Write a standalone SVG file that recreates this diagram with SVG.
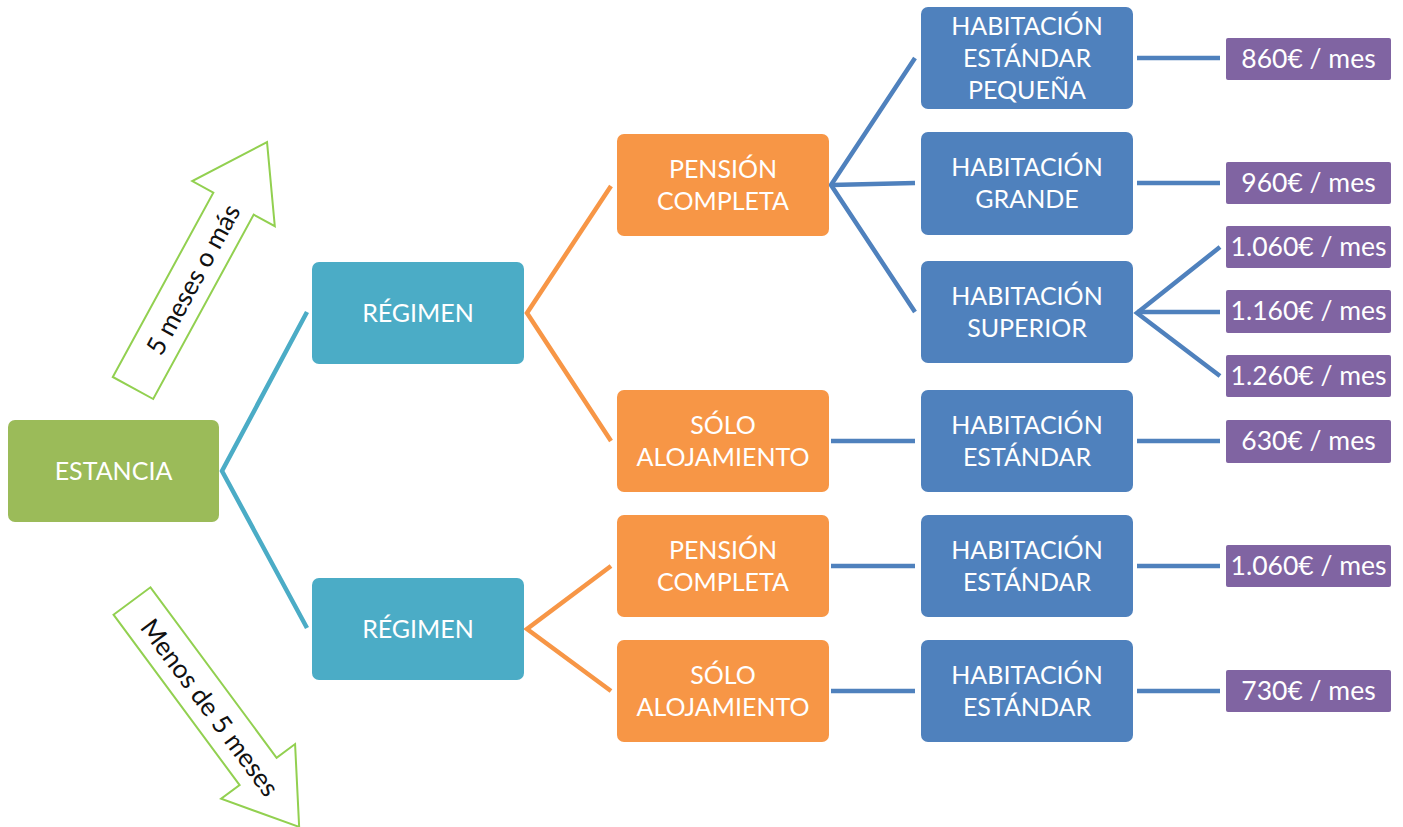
<svg xmlns="http://www.w3.org/2000/svg" width="1403" height="827" viewBox="0 0 1403 827">
<style>
.t{font-family:Lato,"Liberation Sans",sans-serif;font-size:25px;fill:#fff;text-anchor:middle;dominant-baseline:central}
.pt{font-size:26.5px}
.at{font-family:Lato,"Liberation Sans",sans-serif;font-size:26px;fill:#111;text-anchor:middle;dominant-baseline:central}
.g{fill:#9BBB59}
.c{fill:#4BACC6}
.o{fill:#F79646}
.b{fill:#4F81BD}
.p{fill:#8064A2}
.arr{fill:#fff;stroke:#92D050;stroke-width:2;stroke-linejoin:miter}
.lc{stroke:#4BACC6;stroke-width:4.5;fill:none}
.lo{stroke:#F79646;stroke-width:4.5;fill:none}
.lb{stroke:#4F81BD;stroke-width:4.5;fill:none}
</style>
<rect width="1403" height="827" fill="#fff"/>
<g id="connectors">
<polyline class="lc" points="307,312 222,471 307,628"/>
<polyline class="lo" points="611,186 527,313 611,441"/>
<polyline class="lo" points="611,566 527,629 611,691"/>
<polyline class="lb" points="915,58 831,185 915,312"/>
<line class="lb" x1="831" y1="185" x2="915" y2="183"/>
<line class="lb" x1="831" y1="441" x2="915" y2="441"/>
<line class="lb" x1="831" y1="566" x2="915" y2="566"/>
<line class="lb" x1="831" y1="691" x2="915" y2="691"/>
<line class="lb" x1="1137" y1="58" x2="1220" y2="58"/>
<line class="lb" x1="1137" y1="183" x2="1220" y2="183"/>
<polyline class="lb" points="1220,247 1137,313 1220,376"/>
<line class="lb" x1="1137" y1="312" x2="1220" y2="312"/>
<line class="lb" x1="1137" y1="441" x2="1220" y2="441"/>
<line class="lb" x1="1137" y1="566" x2="1220" y2="566"/>
<line class="lb" x1="1137" y1="691" x2="1220" y2="691"/>
</g>
<g id="arrow-up" transform="translate(133,388) rotate(28.6)">
<polygon class="arr" points="-23,0 -23,-210 -47,-210 0,-280 47,-210 23,-210 23,0"/>
<text class="at" transform="translate(0,-124) rotate(-90)">5 meses o más</text>
</g>
<g id="arrow-down" transform="translate(132,601) rotate(-36.5)">
<polygon class="arr" points="-23,0 23,0 23,212 46,212 0,281 -46,212 -23,212"/>
<text class="at" transform="translate(0,132) rotate(90)">Menos de 5 meses</text>
</g>
<g id="estancia"><rect class="g" x="8" y="420" width="211" height="102" rx="7"/><text class="t" x="113.5" y="469.5">ESTANCIA</text></g>
<g id="regimen1"><rect class="c" x="312" y="262" width="212" height="102" rx="7"/><text class="t" x="418" y="311.5">RÉGIMEN</text></g>
<g id="regimen2"><rect class="c" x="312" y="578" width="212" height="102" rx="7"/><text class="t" x="418" y="627.5">RÉGIMEN</text></g>
<g id="pension1"><rect class="o" x="617" y="134" width="212" height="102" rx="7"/><text class="t" x="723" y="167.5">PENSIÓN</text><text class="t" x="723" y="199.5">COMPLETA</text></g>
<g id="solo1"><rect class="o" x="617" y="390" width="212" height="102" rx="7"/><text class="t" x="723" y="423.5">SÓLO</text><text class="t" x="723" y="455.5">ALOJAMIENTO</text></g>
<g id="pension2"><rect class="o" x="617" y="515" width="212" height="102" rx="7"/><text class="t" x="723" y="548.5">PENSIÓN</text><text class="t" x="723" y="580.5">COMPLETA</text></g>
<g id="solo2"><rect class="o" x="617" y="640" width="212" height="102" rx="7"/><text class="t" x="723" y="673.5">SÓLO</text><text class="t" x="723" y="705.5">ALOJAMIENTO</text></g>
<g id="hab-pequena"><rect class="b" x="921" y="7" width="212" height="102" rx="7"/><text class="t" x="1027" y="24.5">HABITACIÓN</text><text class="t" x="1027" y="56.5">ESTÁNDAR</text><text class="t" x="1027" y="88.5">PEQUEÑA</text></g>
<g id="hab-grande"><rect class="b" x="921" y="132" width="212" height="103" rx="7"/><text class="t" x="1027" y="165.5">HABITACIÓN</text><text class="t" x="1027" y="197.5">GRANDE</text></g>
<g id="hab-superior"><rect class="b" x="921" y="261" width="212" height="102" rx="7"/><text class="t" x="1027" y="294.5">HABITACIÓN</text><text class="t" x="1027" y="326.5">SUPERIOR</text></g>
<g id="hab-estandar1"><rect class="b" x="921" y="390" width="212" height="102" rx="7"/><text class="t" x="1027" y="423.5">HABITACIÓN</text><text class="t" x="1027" y="455.5">ESTÁNDAR</text></g>
<g id="hab-estandar2"><rect class="b" x="921" y="515" width="212" height="102" rx="7"/><text class="t" x="1027" y="548.5">HABITACIÓN</text><text class="t" x="1027" y="580.5">ESTÁNDAR</text></g>
<g id="hab-estandar3"><rect class="b" x="921" y="640" width="212" height="102" rx="7"/><text class="t" x="1027" y="673.5">HABITACIÓN</text><text class="t" x="1027" y="705.5">ESTÁNDAR</text></g>
<g id="p860"><rect class="p" x="1226" y="38" width="165" height="42" rx="2"/><text class="t pt" x="1308.5" y="57.5">860€ / mes</text></g>
<g id="p960"><rect class="p" x="1226" y="162" width="165" height="42" rx="2"/><text class="t pt" x="1308.5" y="181.5">960€ / mes</text></g>
<g id="p1060a"><rect class="p" x="1226" y="226" width="165" height="42" rx="2"/><text class="t pt" x="1308.5" y="245.5">1.060€ / mes</text></g>
<g id="p1160"><rect class="p" x="1226" y="290" width="165" height="43" rx="2"/><text class="t pt" x="1308.5" y="309.5">1.160€ / mes</text></g>
<g id="p1260"><rect class="p" x="1226" y="355" width="165" height="42" rx="2"/><text class="t pt" x="1308.5" y="374.5">1.260€ / mes</text></g>
<g id="p630"><rect class="p" x="1226" y="420" width="165" height="43" rx="2"/><text class="t pt" x="1308.5" y="439.5">630€ / mes</text></g>
<g id="p1060b"><rect class="p" x="1226" y="545" width="165" height="42" rx="2"/><text class="t pt" x="1308.5" y="564.5">1.060€ / mes</text></g>
<g id="p730"><rect class="p" x="1226" y="670" width="165" height="42" rx="2"/><text class="t pt" x="1308.5" y="689.5">730€ / mes</text></g>
</svg>
